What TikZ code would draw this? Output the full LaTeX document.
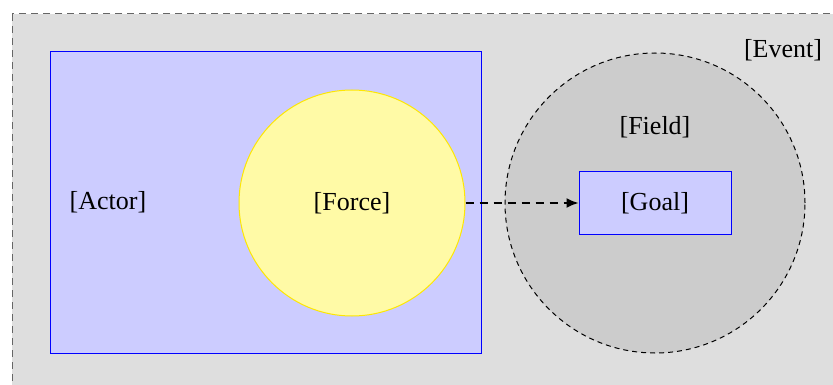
\documentclass[tikz,border=0pt]{standalone}
\usepackage{fontspec}
\setmainfont{Liberation Serif}
\usetikzlibrary{arrows.meta}
\begin{document}
\begin{tikzpicture}[x=1pt,y=-1pt,
  lbl/.style={font=\fontsize{26}{30}\selectfont, inner sep=0pt},
  eventbox/.style={draw=black!60, fill=black!13, dash pattern=on 7pt off 5pt, line width=1pt},
  actorbox/.style={draw=blue, fill=blue!20, line width=1pt},
  forcecirc/.style={draw=yellow!90!orange, fill=yellow!35, line width=1pt, circle, inner sep=0pt, minimum size=226pt},
  fieldcirc/.style={draw=black, fill=black!20, dash pattern=on 5pt off 4pt, line width=1pt, circle, inner sep=0pt, minimum size=300pt},
  goalbox/.style={draw=blue, fill=blue!20, line width=1pt, minimum width=152pt, minimum height=63pt, inner sep=0pt},
  flow/.style={-{Latex[length=12pt,width=10pt]}, line width=1.6pt, dash pattern=on 8pt off 6pt}]
\useasboundingbox (0,0) rectangle (833,385);
\fill[white] (0,0) rectangle (833,385);
\draw[eventbox] (12,14) rectangle (845,400);
\node[lbl] (event) at (783,50) {[Event]};
\draw[actorbox] (50,52) rectangle (481,353);
\node[lbl] (actor) at (108,202) {[Actor]};
\node[forcecirc] (force) at (352,203) {};
\node[lbl] at (force.center) {[Force]};
\node[fieldcirc] (field) at (655,203) {};
\node[lbl] (fieldlbl) at (655,127) {[Field]};
\node[goalbox] (goal) at (655,203) {};
\node[lbl] at (goal.center) {[Goal]};
\draw[flow] (force.east) -- (goal.west);
\end{tikzpicture}
\end{document}
